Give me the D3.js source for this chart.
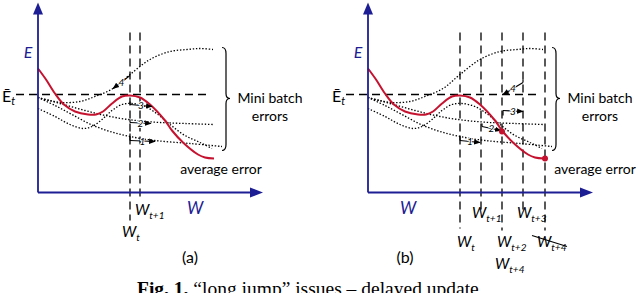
<!DOCTYPE html>
<html lang="en">
<head>
    <meta charset="UTF-8">
    <title>long jump issues</title>
    <script src="https://cdn.jsdelivr.net/npm/d3@7"></script>
</head>
<style>
    body { margin: 0; background: #fff; }
    svg { display: block; }
</style>
<body>
    <div id="graphDiv"></div>

    <script>
        var width = 640
        var height = 293

        // curves in (w, E) units, origin at the axes corner
        var averageError = [[0,124],[8,113],[17,99],[26,88],[37,81],[50,78],[58,78],[65,81],[74,89],[84,96],[92,97],[102,95],[112,88],[127,72],[134,62],[145,50],[160,38],[167,35],[176,34]]
        var batch4 = [[0,95],[12,92],[24,90],[42,91],[57,96],[75,104],[92,118],[112,133],[132,141],[149,143],[162,144],[175,143]]
        var batch3 = [[0,84],[17,76],[32,68],[45,64],[54,66],[64,73],[74,82],[84,88],[94,89],[107,86],[120,78],[132,68],[147,57],[162,50],[174,44]]
        var batch2 = [[0,95],[22,89],[47,82],[72,76],[98,72],[122,70],[147,69],[175,68]]
        var batch1 = [[0,95],[17,87],[34,78],[53,68],[72,61],[92,56],[117,52],[152,49],[184,46]]
        var batches = [batch1, batch2, batch3, batch4]

        var eBar = 98   // level of the dashed E-bar line

        // vertical W marks: position, lower end
        var wLinesA = [{w: 92, low: -28}, {w: 102, low: -8}]
        var wLinesB = [{w: 92, low: -36}, {w: 113, low: -20}, {w: 134, low: -38}, {w: 155, low: -20}, {w: 177, low: -38}]

        // W labels: text, subscript, w, E (baseline)
        var wLabelsA = [{t: "W", sub: "t", w: 84, e: -44}, {t: "W", sub: "t+1", w: 97, e: -22}]
        var wLabelsB = [
            {t: "W", sub: "t", w: 89, e: -54},
            {t: "W", sub: "t+1", w: 104, e: -25},
            {t: "W", sub: "t+3", w: 149, e: -25},
            {t: "W", sub: "t+2", w: 129, e: -54},
            {t: "W", sub: "t+4", w: 127, e: -76},
            {t: "W", sub: "t+4", w: 169, e: -54}
        ]
        var strike = [[164, -43], [199, -54]]

        // update arrows
        var arrowsA = [
            {label: "1", w1: 92, e1: 52, w2: 117, e2: 51, tick: 59},
            {label: "2", w1: 92, e1: 70, w2: 113, e2: 69, tick: 73},
            {label: "3", w1: 92, e1: 88, w2: 114, e2: 86, tick: 91},
            {label: "4", w1: 92, e1: 117, w2: 75, e2: 104, tick: null}
        ]
        var arrowsB = [
            {label: "1", w1: 92, e1: 52, w2: 112, e2: 50, tick: 57},
            {label: "2", w1: 114, e1: 66, w2: 133, e2: 62, tick: 69},
            {label: "3", w1: 135, e1: 82, w2: 155, e2: 81, tick: 77},
            {label: "4", w1: 155, e1: 110, w2: 135, e2: 98, tick: 113}
        ]
        var redDotsB = [[134, 61], [177, 34]]

        var blue = "#1d1d94"
        var red = "#c4122f"
        var txtFont = "Lato, 'Open Sans', sans-serif"

        var svg = d3.select('#graphDiv').append('svg')
            .attr('width', width).attr('height', height)

        var defs = svg.append('defs')
        defs.append('marker').attr('id', 'tip')
            .attr('viewBox', '0 0 10 10').attr('refX', 9).attr('refY', 5)
            .attr('markerWidth', 6).attr('markerHeight', 6).attr('orient', 'auto')
            .append('path').attr('d', 'M0,1 L10,5 L0,9 Z').attr('fill', '#000')

        var y = d3.scaleLinear().domain([0, 190]).range([192.5, 2.5])

        function brace(g, x, top, bottom, mid, w) {
            var h = w / 2
            var p = "M" + x + "," + top +
                " Q" + (x + h) + "," + top + " " + (x + h) + "," + (top + 6) +
                " L" + (x + h) + "," + (mid - 5) +
                " Q" + (x + h) + "," + mid + " " + (x + w) + "," + mid +
                " Q" + (x + h) + "," + mid + " " + (x + h) + "," + (mid + 5) +
                " L" + (x + h) + "," + (bottom - 6) +
                " Q" + (x + h) + "," + bottom + " " + x + "," + bottom
            g.append('path').attr('d', p).attr('fill', 'none').attr('stroke', '#000').attr('stroke-width', 1.2)
        }

        function panel(x0, opts) {
            var x = d3.scaleLinear().domain([0, 225]).range([x0, x0 + 225])
            var g = svg.append('g')
            var line = d3.line().x(d => x(d[0])).y(d => y(d[1])).curve(d3.curveCatmullRom.alpha(0.5))

            // dashed E-bar and W lines
            g.append('line')
                .attr('x1', x(-22)).attr('x2', x(172)).attr('y1', y(eBar)).attr('y2', y(eBar))
                .attr('stroke', '#000').attr('stroke-width', 1.3).attr('stroke-dasharray', '8,5')
            g.selectAll('.wl').data(opts.wLines).enter().append('line')
                .attr('x1', d => x(d.w)).attr('x2', d => x(d.w))
                .attr('y1', y(160)).attr('y2', d => y(d.low))
                .attr('stroke', '#000').attr('stroke-width', 1.3).attr('stroke-dasharray', '8,5')

            // mini batch error curves
            g.selectAll('.mb').data(batches).enter().append('path')
                .attr('d', line).attr('fill', 'none')
                .attr('stroke', '#000').attr('stroke-width', 1.3).attr('stroke-dasharray', '1.4,1.8')

            // average error
            g.append('path').attr('d', line(averageError)).attr('fill', 'none')
                .attr('stroke', red).attr('stroke-width', 2)

            // arrows
            var ar = g.selectAll('.ar').data(opts.arrows).enter().append('g')
            ar.filter(d => d.tick != null).append('line')
                .attr('x1', d => x(d.w1)).attr('x2', d => x(d.w1))
                .attr('y1', d => y(d.e1)).attr('y2', d => y(d.tick))
                .attr('stroke', '#000').attr('stroke-width', 1.2)
            ar.append('line')
                .attr('x1', d => x(d.w1)).attr('y1', d => y(d.e1))
                .attr('x2', d => x(d.w2)).attr('y2', d => y(d.e2))
                .attr('stroke', '#000').attr('stroke-width', 1.1)
                .attr('marker-end', 'url(#tip)')
            ar.append('text')
                .attr('x', d => (x(d.w1) + x(d.w2)) / 2)
                .attr('y', d => (y(d.e1) + y(d.e2)) / 2 + 3.5)
                .attr('text-anchor', 'middle')
                .attr('font-family', txtFont).attr('font-style', 'italic').attr('font-size', 10)
                .attr('stroke', '#fff').attr('stroke-width', 2).attr('paint-order', 'stroke')
                .text(d => d.label)

            if (opts.dots) {
                g.selectAll('.dot').data(opts.dots).enter().append('circle')
                    .attr('cx', d => x(d[0])).attr('cy', d => y(d[1])).attr('r', 3).attr('fill', red)
            }

            // axes
            g.append('line').attr('x1', x(0)).attr('x2', x(0)).attr('y1', y(0)).attr('y2', y(182))
                .attr('stroke', blue).attr('stroke-width', 1.8)
            g.append('path').attr('fill', blue)
                .attr('d', "M" + x(0) + "," + y(190) + " L" + (x(0) - 5) + "," + y(178) + " L" + (x(0) + 5) + "," + y(178) + " Z")
            g.append('line').attr('x1', x(0)).attr('x2', x(217)).attr('y1', y(0)).attr('y2', y(0))
                .attr('stroke', blue).attr('stroke-width', 1.8)
            g.append('path').attr('fill', blue)
                .attr('d', "M" + x(225) + "," + y(0) + " L" + x(212) + "," + (y(0) - 5) + " L" + x(212) + "," + (y(0) + 5) + " Z")

            // axis names
            g.append('text').attr('x', x(-10)).attr('y', y(135)).attr('text-anchor', 'middle')
                .attr('font-family', txtFont).attr('font-style', 'italic').attr('font-size', 16).attr('fill', blue).text("E")
            g.append('text').attr('x', x(opts.wName)).attr('y', y(-21)).attr('text-anchor', 'middle')
                .attr('font-family', txtFont).attr('font-style', 'italic').attr('font-size', 17).attr('fill', blue).text("W")
            var eb = g.append('text').attr('x', x(-36)).attr('y', y(91))
                .attr('font-family', txtFont).attr('font-size', 16).attr('fill', '#000')
            eb.append('tspan').text("Ē")
            eb.append('tspan').attr('font-size', 11).attr('font-style', 'italic').attr('dy', 3).text("t")

            // W marks
            var wl = g.selectAll('.wt').data(opts.wLabels).enter().append('text')
                .attr('x', d => x(d.w)).attr('y', d => y(d.e))
                .attr('font-family', txtFont).attr('font-style', 'italic').attr('font-size', 15).attr('fill', '#000')
            wl.append('tspan').text(d => d.t)
            wl.append('tspan').attr('font-size', 10).attr('dy', 4).text(d => d.sub)
            if (opts.strike) {
                g.append('line').attr('x1', x(opts.strike[0][0])).attr('y1', y(opts.strike[0][1]))
                    .attr('x2', x(opts.strike[1][0])).attr('y2', y(opts.strike[1][1]))
                    .attr('stroke', '#000').attr('stroke-width', 1.2)
            }

            // brace and texts
            brace(g, x(opts.brace), y(145), y(42), y(eBar - 4), 8)
            var tx = g.append('g').attr('font-family', txtFont).attr('font-size', 14).attr('fill', '#000').attr('text-anchor', 'middle')
            tx.append('text').attr('x', x(opts.brace + 48)).attr('y', y(90)).text("Mini batch")
            tx.append('text').attr('x', x(opts.brace + 48)).attr('y', y(72)).text("errors")
            tx.append('text').attr('x', x(opts.avgText)).attr('y', y(19)).text("average error")
            g.append('text').attr('x', x(opts.tag)).attr('y', y(-70)).attr('text-anchor', 'middle')
                .attr('font-family', txtFont).attr('font-size', 16).attr('fill', '#000').text(opts.name)
        }

        panel(38, {wLines: wLinesA, wLabels: wLabelsA, arrows: arrowsA, wName: 157, brace: 184, avgText: 183, tag: 152, name: "(a)"})
        panel(368, {wLines: wLinesB, wLabels: wLabelsB, arrows: arrowsB, dots: redDotsB, strike: strike, wName: 40, brace: 184, avgText: 227, tag: 37, name: "(b)"})

        // caption, cut by the bottom edge as in the source figure
        var cap = svg.append('text').attr('x', 137).attr('y', 295)
            .attr('font-family', "'Liberation Serif', 'Times New Roman', serif").attr('font-size', 19.5).attr('fill', '#000')
        cap.append('tspan').attr('font-weight', 'bold').text("Fig. 1.")
        cap.append('tspan').text(" \u201Clong jump\u201D issues \u2013 delayed update")
    </script>
</body>
</html>
